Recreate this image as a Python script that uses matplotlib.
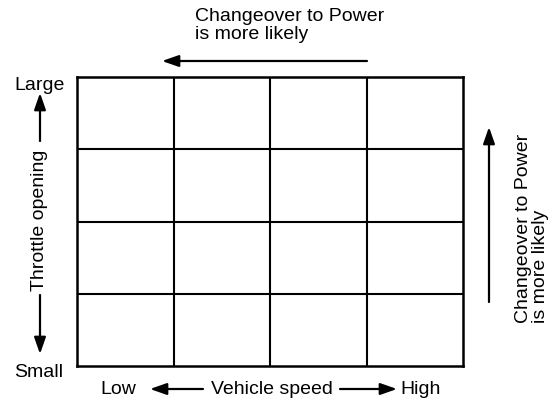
import matplotlib.pyplot as plt

# Map cells: 4 vehicle-speed bands x 4 throttle bands
speed_bands = [1, 2, 3, 4]
throttle_bands = [1, 2, 3, 4]

speed_labels = ["Low", "Vehicle speed", "High"]
throttle_labels = ["Large", "Throttle opening", "Small"]
note_text = "Changeover to Power\nis more likely"

plt.rcParams['font.family'] = ['Liberation Sans', 'DejaVu Sans']

W, H = 552, 402
fig = plt.figure(figsize=(W / 100, H / 100), dpi=100)

# Grid axes
ax = fig.add_axes([77 / W, (H - 367) / H, 386 / W, 289 / H])
ax.set_xlim(0, len(speed_bands))
ax.set_ylim(0, len(throttle_bands))
for x in speed_bands[:-1]:
    ax.axvline(x, color='black', lw=1.5)
for y in throttle_bands[:-1]:
    ax.axhline(y, color='black', lw=1.5)
for s in ax.spines.values():
    s.set_linewidth(1.8)
ax.set_xticks([])
ax.set_yticks([])

# Overlay in pixel coordinates for labels and arrows
ov = fig.add_axes([0, 0, 1, 1], facecolor='none')
ov.set_xlim(0, W)
ov.set_ylim(H, 0)
ov.axis('off')

fs = 14
arrow = dict(arrowstyle='-|>,head_length=1.0,head_width=0.35', lw=1.6,
             color='black', mutation_scale=10, shrinkA=0, shrinkB=0)

def arr(tail, tip):
    ov.annotate('', xy=tip, xytext=tail, arrowprops=arrow)

# Top note
ov.text(195, 8, note_text, fontsize=fs, ha='left', va='top', linespacing=1.05)
arr((367, 62), (162, 62))

# Left axis labels
ov.text(65, 86, throttle_labels[0], fontsize=fs, ha='right', va='center')
ov.text(63, 373, throttle_labels[2], fontsize=fs, ha='right', va='center')
ov.text(40, 220, throttle_labels[1], fontsize=fs, ha='center', va='center',
        rotation=90)
arr((40, 142), (40, 94))
arr((40, 296), (40, 355))

# Right note
ov.text(532, 323, note_text, fontsize=fs, ha='center', va='bottom',
        rotation=90, multialignment='left', linespacing=1.05)
arr((489, 303), (489, 128))

# Bottom labels
ov.text(118, 390, speed_labels[0], fontsize=fs, ha='center', va='center')
ov.text(272, 390, speed_labels[1], fontsize=fs, ha='center', va='center')
ov.text(421, 390, speed_labels[2], fontsize=fs, ha='center', va='center')
arr((203, 390), (150, 390))
arr((340, 390), (397, 390))

fig.savefig('out.png', dpi=100)
